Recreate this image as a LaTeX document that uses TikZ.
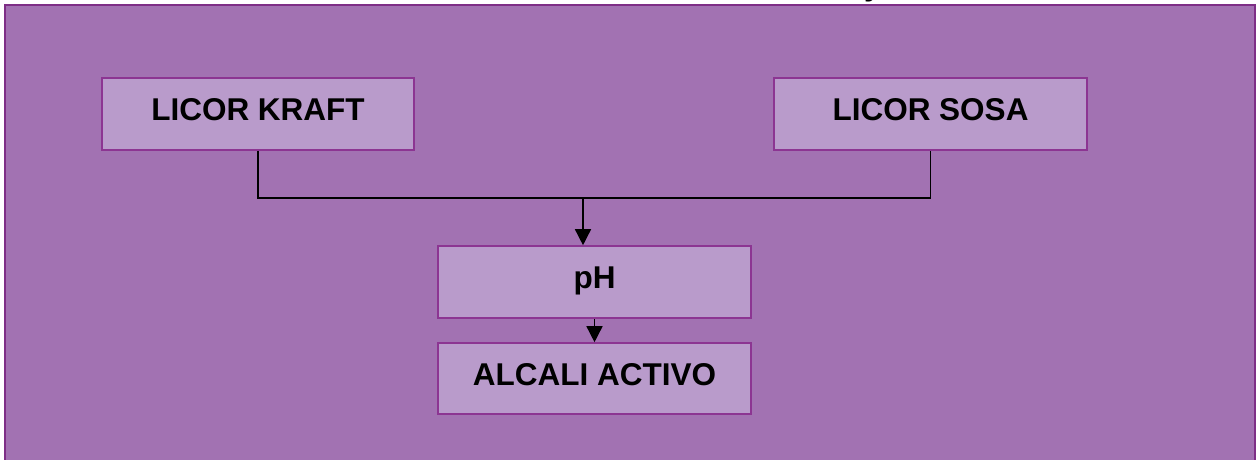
\documentclass[tikz,border=0pt]{standalone}
\usepackage{fontspec}
\setmainfont{Liberation Sans}
\usetikzlibrary{arrows.meta}
\definecolor{panel}{HTML}{A272B2}
\definecolor{panelline}{HTML}{7E2E86}
\definecolor{boxfill}{HTML}{B99BCB}
\definecolor{boxline}{HTML}{8C3592}
\tikzset{
  stepbox/.style={rectangle, fill=boxfill, draw=boxline, line width=1.6pt,
    inner sep=0pt, text height=42pt, text depth=30pt,
    font=\fontsize{31.5}{36}\selectfont\bfseries},
  flow/.style={line width=1.5pt, black},
  flowarrow/.style={flow, -{Triangle[length=16pt,width=16pt]}}
}
\begin{document}
\begin{tikzpicture}[x=1pt,y=-1pt]
  \fill[white] (0,0) rectangle (1257,460);
  \useasboundingbox (0,0) rectangle (1257,460);
  % panel
  \filldraw[fill=panel, draw=panelline, line width=2pt] (5,5) rectangle (1255,490);
  % title text running above the panel
  \node[anchor=base west, inner sep=0pt, font=\fontsize{31.5}{36}\selectfont\bfseries] (title) at (864,-4.5) {y};
  % boxes
  \node[stepbox, minimum width=312pt] (kraft) at (258,114) {LICOR KRAFT};
  \node[stepbox, minimum width=313pt] (sosa) at (930.5,114) {LICOR SOSA};
  \node[stepbox, minimum width=313pt] (ph) at (594.5,282) {pH};
  \node[stepbox, minimum width=313pt, text depth=29pt] (alc) at (594.5,378.5) {ALCALI ACTIVO};
  % connectors
  \coordinate (j) at (583,198);
  \draw[flow] (kraft.south) |- (j) -| (sosa.south);
  \draw[flowarrow] (j) -- (ph.north -| j);
  \draw[flowarrow] (ph.south) -- (alc.north);
\end{tikzpicture}
\end{document}
